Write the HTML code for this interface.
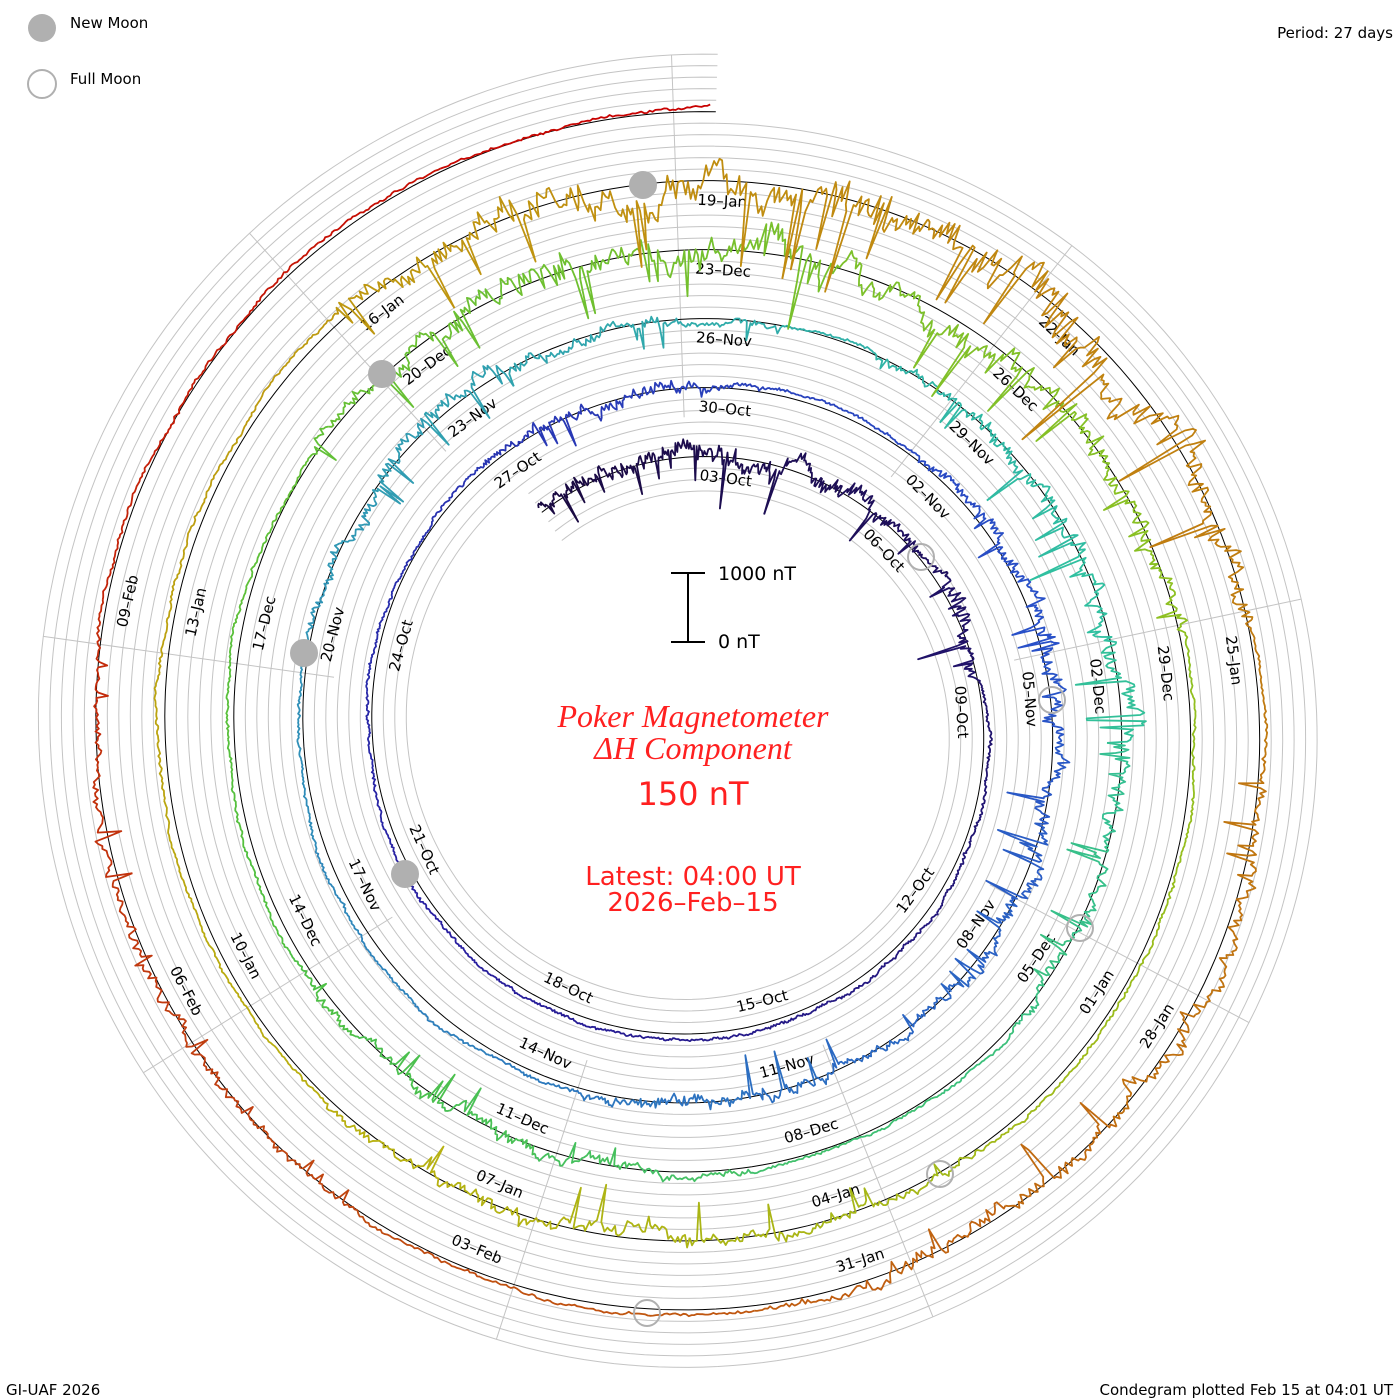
<!DOCTYPE html>
<html><head><meta charset="utf-8"><style>
html,body{margin:0;padding:0;background:#fff;}
svg{display:block;}
text{font-family:"DejaVu Sans","Liberation Sans",sans-serif;}
</style></head><body>
<svg id="s" width="1400" height="1400" viewBox="0 0 1400 1400" xmlns="http://www.w3.org/2000/svg">
<rect width="1400" height="1400" fill="#fff"/>
<g id="grid"></g>
<g id="spokes"></g>
<g id="base"></g>
<g id="labels" font-size="15" fill="#000"></g>
<g id="data" fill="none" stroke-width="1.8" stroke-linejoin="round"></g>
<g id="moons" stroke="#b0b0b0" stroke-width="2">
<circle cx="643" cy="185" r="13" fill="#b0b0b0"/>
<circle cx="382" cy="374" r="13" fill="#b0b0b0"/>
<circle cx="304" cy="653" r="13" fill="#b0b0b0"/>
<circle cx="405" cy="874" r="13" fill="#b0b0b0"/>
<circle cx="921" cy="557" r="13" fill="none"/>
<circle cx="1052" cy="700" r="13" fill="none"/>
<circle cx="1080" cy="928" r="13" fill="none"/>
<circle cx="940" cy="1174" r="13" fill="none"/>
<circle cx="647" cy="1313" r="13" fill="none"/>
</g>
<circle cx="42" cy="28" r="14" fill="#b0b0b0"/>
<circle cx="42" cy="84" r="14" fill="none" stroke="#b0b0b0" stroke-width="2"/>
<text x="70" y="28" font-size="15">New Moon</text>
<text x="70" y="84" font-size="15">Full Moon</text>
<text x="1393" y="38" font-size="15" text-anchor="end">Period: 27 days</text>
<text x="6" y="1395" font-size="15">GI-UAF 2026</text>
<text x="1393" y="1395" font-size="15" text-anchor="end">Condegram plotted Feb 15 at 04:01 UT</text>
<g stroke="#000" stroke-width="2">
<line x1="688" y1="573" x2="688" y2="642"/>
<line x1="671" y1="573" x2="705" y2="573"/>
<line x1="671" y1="642" x2="705" y2="642"/>
</g>
<text x="718" y="580" font-size="19">1000 nT</text>
<text x="718" y="648" font-size="19">0 nT</text>
<g fill="#ff2020" text-anchor="middle">
<text x="693" y="727" font-size="32" font-style="italic" style="font-family:'Liberation Serif',serif">Poker Magnetometer</text>
<text x="693" y="759" font-size="32" font-style="italic" style="font-family:'Liberation Serif',serif">ΔH Component</text>
<text x="693" y="805" font-size="32">150 nT</text>
<text x="693" y="885" font-size="26">Latest: 04:00 UT</text>
<text x="693" y="911" font-size="26">2026–Feb–15</text>
</g>
</svg>
<script>
(function(){
var NS="http://www.w3.org/2000/svg";
var CX=695,CY=728,R0=266,K=2.556,A0=-27.4,DA=360/27;
function ang(d){return (A0+d*DA)*Math.PI/180;}
function rb(d){return R0+K*d;}
function xy(d,r){var a=ang(d);return [CX+r*Math.sin(a),CY-r*Math.cos(a)];}
function el(tag,attrs,parent){var e=document.createElementNS(NS,tag);for(var k in attrs)e.setAttribute(k,attrs[k]);parent.appendChild(e);return e;}
function spiral(off,d0,d1,step){var p=[];for(var d=d0;d<=d1+1e-9;d+=step){var q=xy(d,rb(d)+off);p.push(q[0].toFixed(1)+","+q[1].toFixed(1));}return p.join(" ");}
var grid=document.getElementById("grid");
var D0=-0.6,D1=137.2;
for(var k=-3;k<=5;k++){
  if(k==0)continue;
  var s=(k>=3)?110.2:D0;
  el("polyline",{points:spiral(k*11.5,s,D1,0.1),fill:"none",stroke:"#c4c4c4","stroke-width":1},grid);
}
el("polyline",{points:spiral(0,D0,D1,0.1),fill:"none",stroke:"#000","stroke-width":1},document.getElementById("base"));
var sp=document.getElementById("spokes");
for(var i=0;i<9;i++){
  var a=78-40*i; var d0=((a-A0)/DA)%27; if(d0<0)d0+=27; if(d0>26.4)d0-=27;
  var rin=rb(d0)+40;
  var dl=d0; while(dl+27<=D1)dl+=27;
  var rout=rb(dl)+57.5;
  var ar=a*Math.PI/180;
  el("line",{x1:CX+rin*Math.sin(ar),y1:CY-rin*Math.cos(ar),x2:CX+rout*Math.sin(ar),y2:CY-rout*Math.cos(ar),stroke:"#c4c4c4","stroke-width":1},sp);
}
var months=[["Oct",31],["Nov",30],["Dec",31],["Jan",31],["Feb",28]];
var lg=document.getElementById("labels");
function dateName(d){var m=0,day=1+d;while(day>months[m][1]){day-=months[m][1];m++;}return (day<10?"0":"")+day+"–"+months[m][0];}
for(var d=2;d<=131;d+=3){
  var r=rb(d)-20;
  var ac=(A0+d*DA)+ (34/r)*180/Math.PI;
  var am=((ac%360)+360)%360;
  var arad=am*Math.PI/180;
  var x=CX+r*Math.sin(arad),y=CY-r*Math.cos(arad);
  var rot=(am>112&&am<250)?am-180:am;
  var t=el("text",{x:x.toFixed(1),y:y.toFixed(1),"text-anchor":"middle","dominant-baseline":"middle",transform:"rotate("+rot.toFixed(1)+" "+x.toFixed(1)+" "+y.toFixed(1)+")"},lg);
  t.textContent=dateName(d);
}
var seed=12345;function rnd(){seed|=0;seed=seed+0x6D2B79F5|0;var t=Math.imul(seed^seed>>>15,1|seed);t=t+Math.imul(t^t>>>7,61|t)^t;return((t^t>>>14)>>>0)/4294967296;}
var storms=[[-0.6,6,55],[6.2,8,55],[26,30,35],[32,40,45],[40,44,40],[50,57,35],[58,66,55],[69,74,35],[79,89,70],[94,100,40],[107,116,115],[117,123,50],[126,131,30]];
function amp(d){var a=0;for(var i=0;i<storms.length;i++){var s=storms[i];if(d>=s[0]&&d<=s[1]){var f=Math.sin(Math.PI*(d-s[0])/(s[1]-s[0]));a=Math.max(a,s[2]*(0.4+0.6*f));}}return a;}
var stops=[[0,[26,10,64]],[20,[40,30,160]],[35,[40,80,200]],[50,[48,144,184]],[62,[48,192,160]],[75,[80,192,64]],[90,[144,192,32]],[100,[184,176,16]],[110,[192,144,16]],[120,[192,112,16]],[128,[192,64,16]],[137.2,[200,0,0]]];
function col(d){for(var i=1;i<stops.length;i++){if(d<=stops[i][0]){var a=stops[i-1],b=stops[i],t=(d-a[0])/(b[0]-a[0]);var c=[0,1,2].map(function(j){return Math.round(a[1][j]+(b[1][j]-a[1][j])*t);});return "rgb("+c.join(",")+")";}}return "rgb(200,0,0)";}
var dg=document.getElementById("data");
var walk=0,step=0.02,pts=[],segStart=D0,off=0;
for(var d=D0;d<=137.17;d+=step){
  walk+=(rnd()-0.5)*1.4; walk*=0.985;
  var A=amp(d), spike=0, jit=(rnd()-0.5)*2;
  if(A>0){ jit=(rnd()-0.5)*A*0.25; if(rnd()<0.06) spike=-(rnd()*A); off+=((rnd()-0.55)*A*0.2); off*=0.9; }
  else {off*=0.85;}
  var v=5+walk+off+spike+jit;
  var q=xy(d,rb(d)+v);
  pts.push(q[0].toFixed(1)+","+q[1].toFixed(1));
  if(d-segStart>=1){
    el("polyline",{points:pts.join(" "),stroke:col(d)},dg);
    pts=[pts[pts.length-1]];segStart=d;
  }
}
if(pts.length>1)el("polyline",{points:pts.join(" "),stroke:col(137)},dg);
})();
</script>
</body></html>
